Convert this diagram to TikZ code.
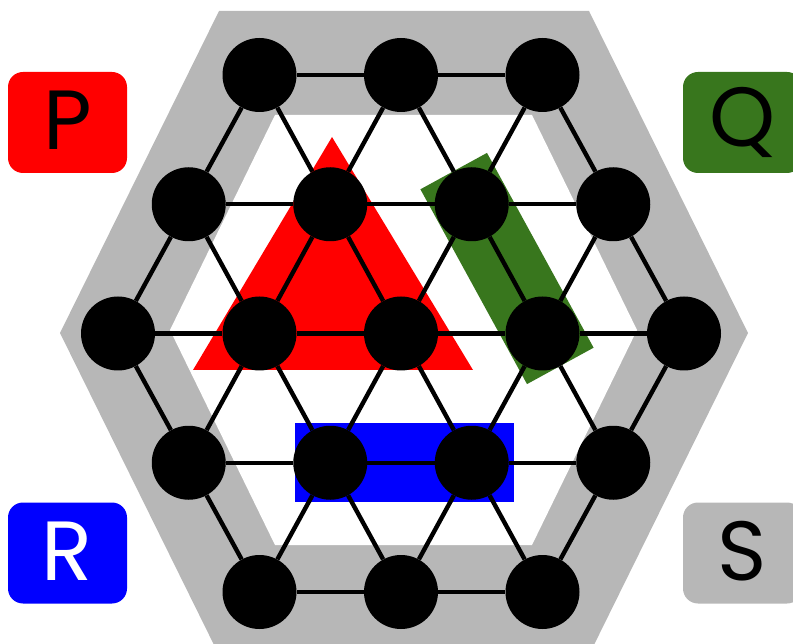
\documentclass[tikz,border=0pt]{standalone}
\usepackage{fontspec}
\setmainfont{Poppins}
\definecolor{bandgray}{HTML}{B7B7B7}
\definecolor{leafgreen}{HTML}{38761D}
\begin{document}
\begin{tikzpicture}[x=1pt,y=-1pt,
  vtx/.style={circle,fill=black,minimum size=74pt,inner sep=0pt},
  link/.style={line width=4.4pt},
  tag/.style={rounded corners=15pt,minimum width=119pt,minimum height=101pt,
    inner sep=0pt,font=\fontsize{84}{84}\selectfont}]
\useasboundingbox (0,0) rectangle (793,644);

% hexagonal gray band
\fill[bandgray] (219,11) -- (589,11) -- (748,333) -- (589,655) -- (219,655) -- (60,333) -- cycle;
\fill[white] (275,115) -- (532,115) -- (637,330) -- (532,545) -- (275,545) -- (170,330) -- cycle;

% coloured pieces
\fill[red] (193,370) -- (332,137) -- (473,370) -- cycle;
\fill[leafgreen] (420.4,189.3) -- (487.0,152.9) -- (593.6,347.7) -- (527.0,384.1) -- cycle;
\fill[blue] (295,423) rectangle (514,502);

% lattice vertices: row r, column index i
\foreach \r/\cols in {0/{2,4,6},1/{1,3,5,7},2/{0,2,4,6,8},3/{1,3,5,7},4/{2,4,6}}{
  \foreach \i in \cols{
    \node[vtx] (n\r\i) at ({118+70.75*\i},{75+129.25*\r}) {};
  }
}

% lattice edges
\foreach \a/\b in {
  n02/n04,n04/n06,
  n11/n13,n13/n15,n15/n17,
  n20/n22,n22/n24,n24/n26,n26/n28,
  n31/n33,n33/n35,n35/n37,
  n42/n44,n44/n46,
  n02/n11,n02/n13,n04/n13,n04/n15,n06/n15,n06/n17,
  n11/n20,n11/n22,n13/n22,n13/n24,n15/n24,n15/n26,n17/n26,n17/n28,
  n20/n31,n22/n31,n22/n33,n24/n33,n24/n35,n26/n35,n26/n37,n28/n37,
  n31/n42,n33/n42,n33/n44,n35/n44,n35/n46,n37/n46}{
  \draw[link] (\a) -- (\b);
}

% corner tags
\node[tag,fill=red,text=black] (tagP) at (67.5,122.5) {\raisebox{4pt}{P}};
\node[tag,fill=leafgreen,text=black] (tagQ) at (742.5,122.5) {\raisebox{3pt}{Q}};
\node[tag,fill=blue,text=white] (tagR) at (67.5,553) {\raisebox{4pt}{R}};
\node[tag,fill=bandgray,text=black] (tagS) at (742.5,553) {\raisebox{4pt}{S}};
\end{tikzpicture}
\end{document}
